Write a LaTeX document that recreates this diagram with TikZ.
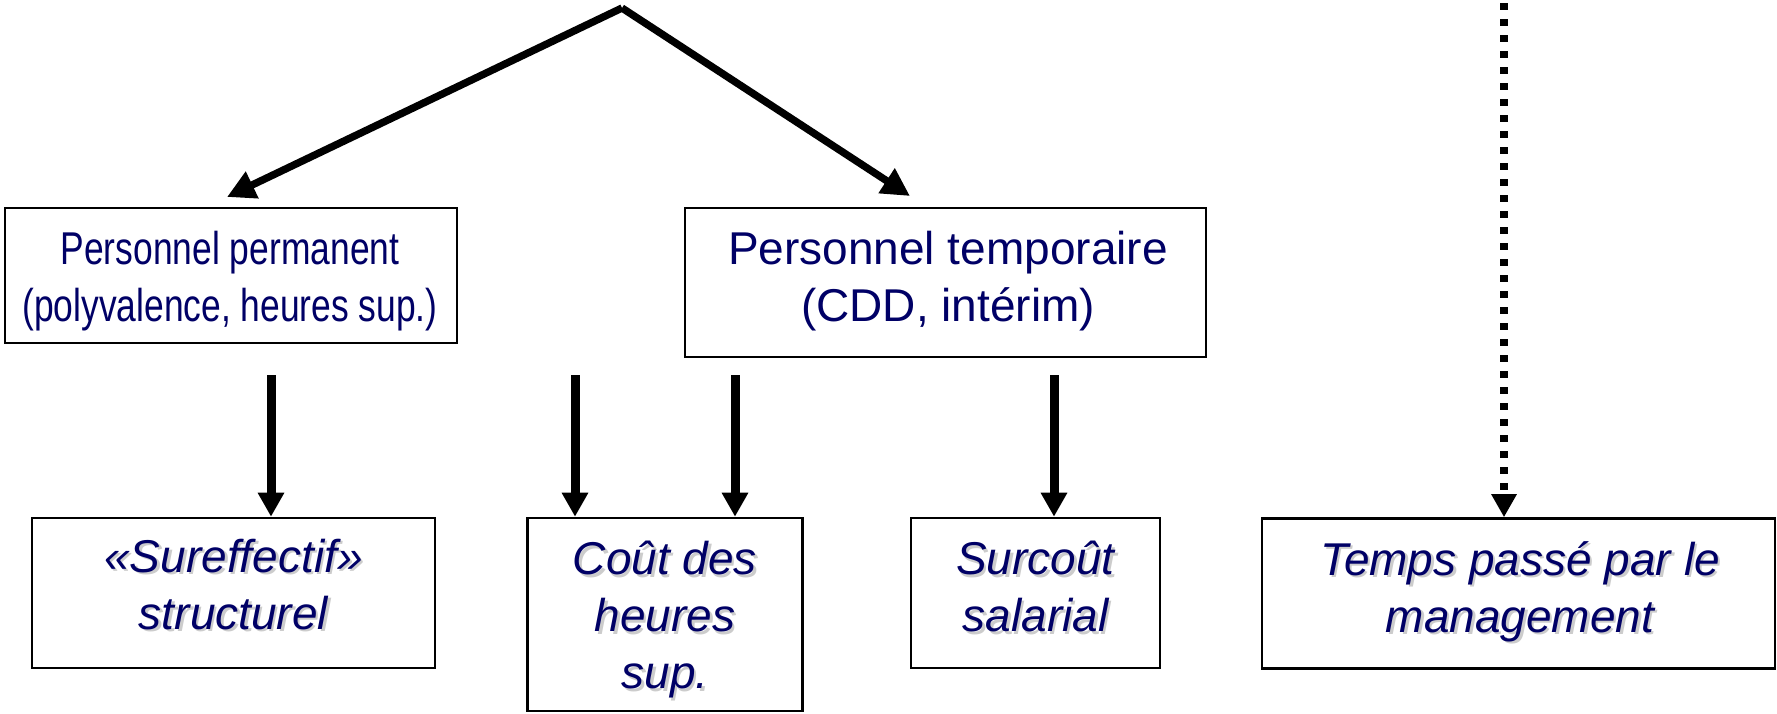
\documentclass[tikz,border=0pt]{standalone}
\usepackage{fontspec}
\setmainfont{Liberation Sans}
\usepackage{graphicx}
\usetikzlibrary{arrows.meta}
\definecolor{navy}{RGB}{0,0,102}
\begin{document}
\begin{tikzpicture}[x=0.5pt,y=-0.5pt,
  box/.style={draw=black, line width=1.3pt, fill=white, inner sep=0pt},
  toptxt/.style={text=navy, align=center, inner sep=0pt, font=\fontsize{23pt}{28.5pt}\selectfont},
  bottxt/.style={text=navy, align=center, inner sep=0pt, font=\fontsize{23pt}{28.5pt}\selectfont\itshape},
  shadowtxt/.style={bottxt, text=black!20},
  diag/.style={line width=3.7pt, -{Triangle[length=14pt,width=14pt]}},
  vert/.style={line width=4.5pt, -{Triangle[length=12pt,width=12.5pt]}},
  dots/.style={line width=3.7pt, dash pattern=on 3.6pt off 4.4pt, -{Triangle[length=11.5pt,width=12pt]}}
]
\useasboundingbox (0,0) rectangle (1777,713);

% boxes
\node[box, minimum width=226pt, minimum height=67.5pt] (pp) at (231,275.5) {};
\node[box, minimum width=260.5pt, minimum height=74.5pt] (pt) at (945.5,282.5) {};
\node[box, minimum width=201.5pt, minimum height=75pt] (b1) at (233.5,593) {};
\node[box, minimum width=137.5pt, minimum height=96.5pt] (b2) at (665,614.5) {};
\node[box, minimum width=124.5pt, minimum height=75pt] (b3) at (1035.5,593) {};
\node[box, minimum width=256.5pt, minimum height=75pt] (b4) at (1518.5,593.5) {};

% top texts
\node[toptxt] (ppt) at (230,281.5) {\scalebox{0.77}[1]{Personnel permanent}\\\scalebox{0.77}[1]{(polyvalence, heures sup.)}};
\node[toptxt] (ptt) at (948,281.5) {Personnel temporaire\\(CDD, intérim)};

% bottom texts with shadow
\node[shadowtxt] (b1s) at (236,587) {«Sureffectif»\\structurel};
\node[bottxt] (b1t) at (233.5,584.5) {«Sureffectif»\\structurel};
\node[shadowtxt] (b2s) at (667.5,622.5) {Coût des\\heures\\sup.};
\node[bottxt] (b2t) at (665,620) {Coût des\\heures\\sup.};
\node[shadowtxt] (b3s) at (1038,589) {Surcoût\\salarial};
\node[bottxt] (b3t) at (1035.5,586.5) {Surcoût\\salarial};
\node[shadowtxt] (b4s) at (1522.5,594) {Temps passé par le\\management};
\node[bottxt] (b4t) at (1520,591.5) {Temps passé par le\\management};

% connectors
\coordinate (apex) at (622,8);
\coordinate (ltip) at (227,197);
\coordinate (rtip) at (910,196);
\draw[diag] (apex) -- (ltip);
\draw[diag] (apex) -- (rtip);

\coordinate (s1) at (271,375);
\coordinate (s2) at (575,375);
\coordinate (s3) at (735,375);
\coordinate (s4) at (1054,375);
\coordinate (d0) at (1504,3);
\draw[vert] (s1) -- (s1 |- b1.north);
\draw[vert] (s2) -- (s2 |- b2.north);
\draw[vert] (s3) -- (s3 |- b2.north);
\draw[vert] (s4) -- (s4 |- b3.north);
\draw[dots] (d0) -- (d0 |- b4.north);
\end{tikzpicture}
\end{document}
